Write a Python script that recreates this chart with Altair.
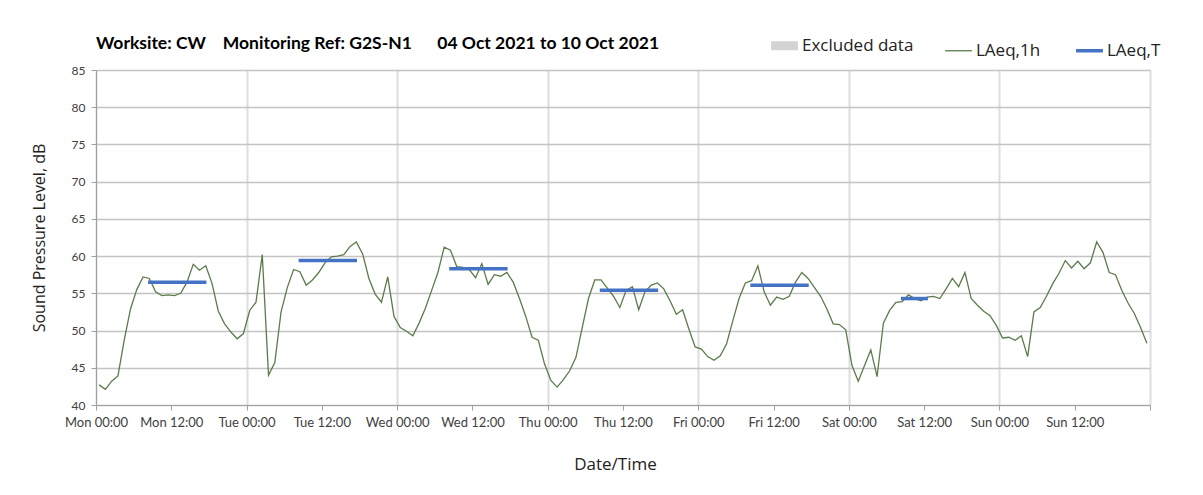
import altair as alt
import pandas as pd

# Hourly LAeq,1h values (dB), one list per day, hour 00 to 23
mon = [42.7, 42.1, 43.2, 43.9, 48.7, 52.9, 55.5, 57.2, 57.0, 55.2, 54.7, 54.8,
       54.7, 55.0, 56.5, 58.9, 58.1, 58.7, 56.3, 52.6, 50.9, 49.8, 48.9, 49.6]
tue = [52.7, 53.8, 60.2, 44.0, 45.7, 52.5, 55.8, 58.2, 57.9, 56.1, 56.8, 57.8,
       59.1, 59.9, 60.0, 60.2, 61.3, 61.9, 60.3, 57.0, 54.9, 53.8, 57.2, 51.9]
wed = [50.4, 49.9, 49.3, 51.0, 53.0, 55.4, 57.8, 61.2, 60.8, 58.6, 58.5, 58.2,
       57.1, 59.0, 56.2, 57.5, 57.3, 57.8, 56.5, 54.3, 51.9, 49.1, 48.7, 45.5]
thu = [43.3, 42.4, 43.4, 44.6, 46.4, 50.4, 54.3, 56.8, 56.8, 55.7, 54.6, 53.1,
       55.4, 55.9, 52.8, 55.2, 56.1, 56.4, 55.6, 54.0, 52.2, 52.8, 50.2, 47.8]
fri = [47.5, 46.5, 46.0, 46.6, 48.2, 51.3, 54.3, 56.4, 56.7, 58.7, 55.2, 53.4,
       54.5, 54.2, 54.6, 56.5, 57.8, 57.0, 55.8, 54.6, 52.9, 50.9, 50.8, 50.1]
sat = [45.3, 43.2, 45.3, 47.4, 43.8, 51.0, 52.7, 53.8, 53.9, 54.8, 54.3, 54.0,
       54.5, 54.6, 54.3, 55.6, 57.0, 55.9, 57.8, 54.3, 53.4, 52.6, 52.0, 50.7]
sun = [49.0, 49.1, 48.7, 49.3, 46.5, 52.5, 53.1, 54.6, 56.3, 57.7, 59.4, 58.4,
       59.3, 58.3, 59.1, 61.9, 60.5, 57.8, 57.5, 55.4, 53.7, 52.3, 50.4, 48.3]

day_names = ["Mon", "Tue", "Wed", "Thu", "Fri", "Sat", "Sun"]

# LAeq,T (daytime period) values and their period in hours from Mon 00:00
laeqt_values = [56.5, 59.4, 58.3, 55.4, 56.1, 54.3]
laeqt_start = [8.3, 32.3, 56.3, 80.3, 104.3, 128.3]
laeqt_end = [17.6, 41.6, 65.6, 89.6, 113.6, 132.6]

x_ticks = list(range(0, 169, 12))
y_ticks = list(range(40, 86, 5))

series_names = ["Excluded data", "LAeq,1h", "LAeq,T"]
series_colors = ["#d3d3d3", "#5b7b4b", "#4472c4"]

FONT = "Lato"
FONT2 = "Open Sans"

hourly = mon + tue + wed + thu + fri + sat + sun
hour_df = pd.DataFrame({
    "hour": [k + 0.5 for k in range(len(hourly))],
    "level": hourly,
    "series": ["LAeq,1h"] * len(hourly),
})
laeqt_df = pd.DataFrame({
    "start": laeqt_start,
    "end": laeqt_end,
    "level": laeqt_values,
    "series": ["LAeq,T"] * len(laeqt_values),
})

day_js = "[" + ",".join("'%s'" % d for d in day_names) + "]"
label_expr = ("datum.value >= 168 ? '' : " + day_js +
              "[floor(datum.value / 24)] + (datum.value % 24 === 0 ? ' 00:00' : ' 12:00')")

x_scale = alt.Scale(domain=[0, 168], nice=False, zero=False)
y_scale = alt.Scale(domain=[40, 85], nice=False, zero=False)

color_scale = alt.Scale(domain=series_names, range=series_colors)

legend = alt.Legend(
    title=None,
    orient="none",
    legendX=680,
    legendY=-33,
    direction="horizontal",
    columnPadding=28,
    symbolType="stroke",
    symbolSize=720,
    symbolStrokeWidth=alt.ExprRef(
        expr="datum.label === 'Excluded data' ? 9 : (datum.label === 'LAeq,T' ? 3.5 : 1.3)"
    ),
    labelOffset=9,
    labelFont=FONT2,
    labelFontSize=17,
    labelColor="#222222",
    padding=0,
)

x_axis = alt.Axis(
    title="Date/Time",
    values=x_ticks,
    labelExpr=label_expr,
    labelFont=FONT,
    labelFontSize=13,
    labelColor="#404040",
    labelPadding=6,
    labelOverlap=False,
    tickSize=5,
    tickColor="#a0a0a0",
    domainColor="#a0a0a0",
    gridColor="#dedede",
    gridWidth=2,
    gridOpacity={"condition": {"test": "datum.value % 24 === 0", "value": 1}, "value": 0},
    titleFont=FONT2,
    titleFontSize=17,
    titleFontWeight="normal",
    titleColor="#222222",
    titlePadding=27,
    titleX=519,
    titleAlign="center",
    labelFlush=False,
)
y_axis = alt.Axis(
    title="Sound Pressure Level, dB",
    values=y_ticks,
    labelFont=FONT,
    labelFontSize=12,
    labelColor="#404040",
    labelPadding=6,
    labelOverlap=False,
    tickSize=5,
    tickColor="#a0a0a0",
    domainColor="#a0a0a0",
    gridColor="#c4c4c4",
    gridWidth=1.5,
    titleFont=FONT2,
    titleFontSize=16,
    titleFontWeight="normal",
    titleColor="#222222",
    titlePadding=24,
)

line = alt.Chart(hour_df).mark_line(strokeWidth=1.3).encode(
    x=alt.X("hour:Q", scale=x_scale, axis=x_axis),
    y=alt.Y("level:Q", scale=y_scale, axis=y_axis),
    color=alt.Color("series:N", scale=color_scale, legend=legend),
)

rules = alt.Chart(laeqt_df).mark_rule(strokeWidth=3.5).encode(
    x=alt.X("start:Q", scale=x_scale, axis=x_axis),
    x2="end:Q",
    y=alt.Y("level:Q", scale=y_scale, axis=y_axis),
    color=alt.Color("series:N", scale=color_scale, legend=legend),
)

title_text = ("Worksite:\u00a0CW\u00a0\u00a0\u00a0\u00a0Monitoring\u00a0Ref:\u00a0G2S-N1"
              "\u00a0\u00a0\u00a0\u00a0\u00a0\u00a004\u00a0Oct\u00a02021\u00a0to\u00a010\u00a0Oct\u00a02021")

chart = alt.layer(line, rules).properties(
    width=1054,
    height=335,
    autosize=alt.AutoSizeParams(type="none"),
    padding={"left": 88, "top": 62, "right": 45, "bottom": 80},
    title=alt.TitleParams(
        text=title_text,
        anchor="start",
        frame="group",
        font=FONT,
        fontSize=17.5,
        fontWeight="bold",
        color="#000000",
        offset=18,
        dy=33,
    ),
).configure_view(stroke="transparent").configure(background="white")

chart.save("out.html", embed_options={"renderer": "svg", "actions": False})
